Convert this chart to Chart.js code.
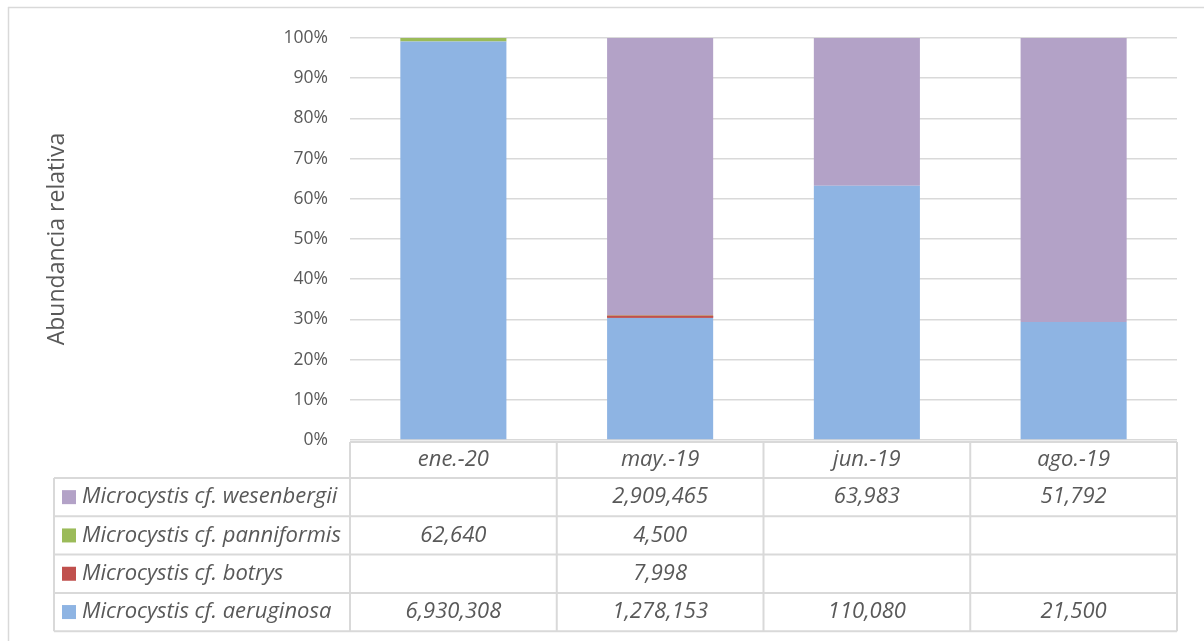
<!DOCTYPE html>
<html>
<head>
<meta charset="utf-8">
<script src="https://cdn.jsdelivr.net/npm/chart.js@4.4.1/dist/chart.umd.min.js"></script>
<style>
  html, body { margin: 0; padding: 0; background: #ffffff; }
  #wrap { position: relative; width: 1204px; height: 641px; }
</style>
</head>
<body>
<div id="wrap"><canvas id="c" width="1204" height="641"></canvas></div>
<script>
// Sampling dates (columns of the data table)
const categories = ['ene.-20', 'may.-19', 'jun.-19', 'ago.-19'];

// Cell counts per species (null = not recorded)
const aeruginosa  = [6930308, 1278153, 110080, 21500];
const botrys      = [null,    7998,    null,   null];
const panniformis = [62640,   4500,    null,   null];
const wesenbergii = [null,    2909465, 63983,  51792];

// Species labels and fill colours, bottom of the stack first
const speciesNames  = ['Microcystis cf. aeruginosa', 'Microcystis cf. botrys',
                       'Microcystis cf. panniformis', 'Microcystis cf. wesenbergii'];
const speciesColors = ['#8EB4E3', '#C0504D', '#9BBB59', '#B3A2C7'];
const speciesCounts = [aeruginosa, botrys, panniformis, wesenbergii];

const FONT = '"Open Sans", sans-serif';
const TEXT = '#595959';
const GRID = '#D9D9D9';

// Column totals -> relative abundance (%) for the 100% stack
const totals = categories.map((_, i) =>
  speciesCounts.reduce((s, arr) => s + (arr[i] || 0), 0));
const toPercent = arr => arr.map((v, i) => v === null ? null : v / totals[i] * 100);

const datasets = speciesNames.map((name, k) => ({
  label: name,
  data: toPercent(speciesCounts[k]),
  backgroundColor: speciesColors[k],
  borderWidth: 0,
  categoryPercentage: 1.0,
  barPercentage: 0.513,
  // keep the very thin botrys slice visible as a line
  minBarLength: k === 1 ? 2 : 0
}));

const fmt = v => (v === null || v === undefined) ? '' : v.toLocaleString('en-US');

// Frame, thin-slice overlay, and data table with legend keys under the plot
const tablePlugin = {
  id: 'dataTable',
  beforeDraw(chart) {
    const ctx = chart.ctx;
    ctx.save();
    ctx.strokeStyle = GRID;
    ctx.lineWidth = 1.5;
    ctx.beginPath();
    ctx.moveTo(8, 7.5); ctx.lineTo(1204, 7.5);
    ctx.moveTo(8.5, 7); ctx.lineTo(8.5, 641);
    ctx.stroke();
    ctx.restore();
  },
  afterDatasetsDraw(chart) {
    // draw the botrys bars again so they sit above the neighbouring slices
    const meta = chart.getDatasetMeta(1);
    meta.data.forEach(el => { if (!el.skip) el.draw(chart.ctx); });
  },
  afterDraw(chart) {
    const ctx = chart.ctx;
    const x = chart.scales.x;
    const area = chart.chartArea;
    const step = (area.right - area.left) / categories.length;
    const legendLeft = 54;
    const headerTop = area.bottom + 2;
    const headerBottom = headerTop + 36;
    const rowH = 38.3;
    const rows = speciesNames.length;
    const tableBottom = headerBottom + rows * rowH;

    ctx.save();
    ctx.strokeStyle = GRID;
    ctx.lineWidth = 2;
    ctx.beginPath();
    ctx.moveTo(area.left, headerTop); ctx.lineTo(area.right, headerTop);
    for (let r = 0; r <= rows; r++) {
      const y = headerBottom + r * rowH;
      ctx.moveTo(legendLeft, y); ctx.lineTo(area.right, y);
    }
    ctx.moveTo(legendLeft, headerBottom); ctx.lineTo(legendLeft, tableBottom);
    for (let c = 0; c <= categories.length; c++) {
      const cx = area.left + c * step;
      ctx.moveTo(cx, headerTop); ctx.lineTo(cx, tableBottom);
    }
    ctx.stroke();

    ctx.fillStyle = TEXT;
    ctx.font = 'italic 22px ' + FONT;
    ctx.textAlign = 'center';
    ctx.textBaseline = 'middle';
    categories.forEach((cat, i) => {
      ctx.fillText(cat, x.getPixelForValue(i), (headerTop + headerBottom) / 2);
    });

    // rows: top row is the top of the stack
    for (let r = 0; r < rows; r++) {
      const k = rows - 1 - r;
      const yMid = headerBottom + r * rowH + rowH / 2;
      ctx.fillStyle = speciesColors[k];
      ctx.fillRect(62, yMid - 7, 14, 14);
      ctx.fillStyle = TEXT;
      ctx.textAlign = 'left';
      ctx.fillText(speciesNames[k], 82, yMid);
      ctx.textAlign = 'center';
      speciesCounts[k].forEach((v, i) => {
        ctx.fillText(fmt(v), x.getPixelForValue(i), yMid);
      });
    }
    ctx.restore();
  }
};

new Chart(document.getElementById('c'), {
  type: 'bar',
  data: { labels: categories, datasets },
  plugins: [tablePlugin],
  options: {
    responsive: false,
    animation: false,
    layout: { padding: { left: 0, right: 27, top: 38, bottom: 201 } },
    plugins: { legend: { display: false }, tooltip: { enabled: false } },
    scales: {
      x: {
        stacked: true,
        display: false
      },
      y: {
        stacked: true,
        min: 0,
        max: 100,
        afterFit(scale) { scale.width = 350; },
        border: { display: false },
        grid: { color: GRID, lineWidth: 1.5, drawTicks: false },
        ticks: {
          stepSize: 10,
          padding: 22,
          color: TEXT,
          font: { family: FONT, size: 17.5 },
          callback: v => v + '%'
        },
        title: {
          display: true,
          text: 'Abundancia relativa',
          color: TEXT,
          font: { family: FONT, size: 23 },
          padding: { top: 44, bottom: 0 }
        }
      }
    }
  }
});
</script>
</body>
</html>
